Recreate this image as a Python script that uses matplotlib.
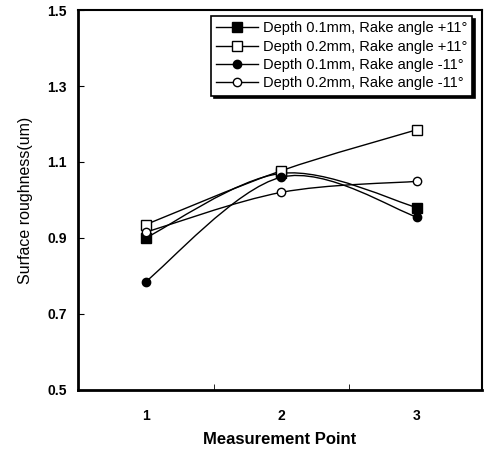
import numpy as np
import matplotlib
matplotlib.use('Agg')
import matplotlib.pyplot as plt
from matplotlib.path import Path
from matplotlib.patches import PathPatch
from matplotlib.lines import Line2D

plt.rcParams['font.family'] = ['Liberation Sans', 'DejaVu Sans']

points = [1, 2, 3]
depth01_plus = [0.90, 1.07, 0.98]
depth02_plus = [0.935, 1.077, 1.185]
depth01_minus = [0.785, 1.06, 0.955]
depth02_minus = [0.915, 1.02, 1.049]

labels = ['Depth 0.1mm, Rake angle +11°',
          'Depth 0.2mm, Rake angle +11°',
          'Depth 0.1mm, Rake angle -11°',
          'Depth 0.2mm, Rake angle -11°']
y_ticks = [0.5, 0.7, 0.9, 1.1, 1.3, 1.5]


def smooth_path(x, y):
    '''Catmull-Rom style smoothed line as cubic Bezier path through the points.'''
    pts = np.column_stack([x, y]).astype(float)
    ext = np.vstack([pts[0], pts, pts[-1]])
    verts = [pts[0]]
    codes = [Path.MOVETO]
    for i in range(len(pts) - 1):
        p0, p1, p2, p3 = ext[i], ext[i + 1], ext[i + 2], ext[i + 3]
        c1 = p1 + (p2 - p0) / 6
        c2 = p2 - (p3 - p1) / 6
        verts += [c1, c2, p2]
        codes += [Path.CURVE4] * 3
    return Path(verts, codes)


fig = plt.figure(figsize=(4.87, 4.57), dpi=100)
ax = fig.add_axes([0.160, 0.147, 0.830, 0.831])

series = [
    (depth01_plus, 's', 'black'),
    (depth02_plus, 's', 'white'),
    (depth01_minus, 'o', 'black'),
    (depth02_minus, 'o', 'white'),
]
handles = []
for (vals, mk, fc), lab in zip(series, labels):
    ax.add_patch(PathPatch(smooth_path(points, vals), facecolor='none',
                           edgecolor='black', lw=1.0, zorder=2))
    ax.plot(points, vals, linestyle='none', marker=mk, markersize=6.5 if mk == 's' else 6,
            markerfacecolor=fc, markeredgecolor='black', markeredgewidth=1.0, zorder=3)
    handles.append(Line2D([], [], color='black', lw=1.0, marker=mk,
                          markersize=6.5 if mk == 's' else 6,
                          markerfacecolor=fc, markeredgecolor='black'))

ax.set_xlim(0.5, 3.48)
ax.set_ylim(0.5, 1.5)
ax.set_yticks(y_ticks)
ax.set_yticklabels([f'{v:.1f}' for v in y_ticks], fontweight='bold', fontsize=10)
ax.set_xticks(points)
ax.set_xticklabels([str(p) for p in points], fontweight='bold', fontsize=10)
ax.set_xticks([1.5, 2.5], minor=True)
ax.tick_params(axis='x', which='major', length=0, pad=14)
ax.tick_params(axis='x', which='minor', direction='in', length=4)
ax.tick_params(axis='y', direction='in', length=4, pad=8)

for side in ['left', 'bottom']:
    ax.spines[side].set_linewidth(2.0)
for side in ['top', 'right']:
    ax.spines[side].set_linewidth(1.5)

ax.set_xlabel('Measurement Point', fontweight='bold', fontsize=12, labelpad=6)
ax.set_ylabel('Surface roughness(um)', fontsize=11.5, labelpad=10)

leg = ax.legend(handles, labels, loc='upper right', fontsize=10.5, handlelength=2.9,
                handletextpad=0.3, borderpad=0.35, labelspacing=0.3, fancybox=False,
                framealpha=1, edgecolor='black',
                shadow={'color': 'black', 'alpha': 1, 'ox': 2, 'oy': -2},
                bbox_to_anchor=(0.993, 1.003))
leg.get_frame().set_linewidth(1.2)

fig.savefig('out.png', dpi=100)
